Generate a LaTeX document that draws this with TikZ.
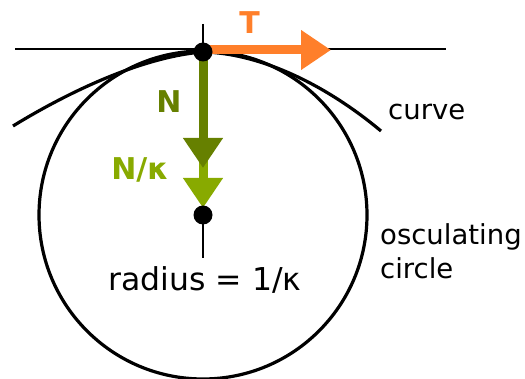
\documentclass[tikz,border=0pt]{standalone}
\usepackage{fontspec}
\setmainfont{DejaVu Sans}
\usetikzlibrary{arrows.meta}
\definecolor{tor}{HTML}{FF7F2A}
\definecolor{ndk}{HTML}{668000}
\definecolor{nlt}{HTML}{88AA00}
\tikzset{
  dotnode/.style={circle,fill=black,inner sep=0pt,minimum size=19pt},
  thinline/.style={line width=2pt,black},
  thickline/.style={line width=3.2pt,black},
  vecarrow/.style={line width=9pt,-{Triangle[length=30pt,width=38pt]}},
  lbl/.style={inner sep=0pt,font=\fontsize{27.5}{33}\selectfont},
  veclbl/.style={inner sep=0pt,font=\fontsize{30}{36}\selectfont\bfseries}
}
\begin{document}
\begin{tikzpicture}[x=1pt,y=-1pt]
\useasboundingbox (0,0) rectangle (525,379);
\coordinate (TL) at (15,49);
\coordinate (TR) at (446,49);
\coordinate (TT) at (203,24);
\coordinate (CB) at (203,258);
\coordinate (cl) at (13,126);
\coordinate (cr) at (381,131);
\coordinate (Ttip) at (331,50);
\coordinate (Ntip) at (203,168);
\coordinate (Kstart) at (203,160);
\coordinate (Ktip) at (203,208);
\coordinate (C0) at (203,215);
\coordinate (P0) at (203,52);
% circle
\draw[thickline] (C0) circle[radius=164pt];
% curve
\draw[thickline] (cl) .. controls (80,85) and (150,56) .. (P0)
  .. controls (255,53) and (320,80) .. (cr);
% tangent line and ticks
\draw[thinline] (TL) -- (TR);
\draw[thinline] (TT) -- (P0);
\draw[thinline] (C0) -- (CB);
% vectors
\draw[vecarrow,tor] (P0 |- Ttip) -- (Ttip);
\draw[vecarrow,nlt] (Kstart) -- (Ktip);
\draw[vecarrow,ndk] (P0) -- (Ntip);
% points
\node[dotnode] (P) at (P0) {};
\node[dotnode] (C) at (C0) {};
% labels
\node[veclbl,text=tor,anchor=base] (Tl) at (249.5,34) {T};
\node[veclbl,text=ndk,anchor=base] (Nl) at (169,113) {N};
\node[veclbl,text=nlt,anchor=base] (Kl) at (140,180) {N/κ};
\node[lbl,anchor=base] (rad) at (205,291) {\fontsize{31.5}{38}\selectfont radius = 1/κ};
\node[lbl,anchor=base west] (cv) at (388,120) {curve};
\node[lbl,anchor=base west] (osc1) at (380,245) {osculating};
\node[lbl,anchor=base west] (osc2) at (380,279) {circle};
\end{tikzpicture}
\end{document}
